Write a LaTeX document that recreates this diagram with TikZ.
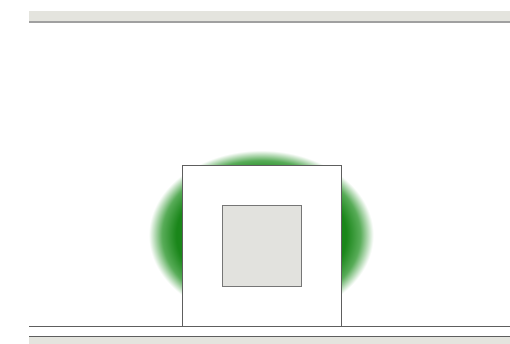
\documentclass[tikz,border=0pt]{standalone}
\usetikzlibrary{shadings}
\definecolor{band}{HTML}{E4E4DE}
\definecolor{bandline}{HTML}{A0A0A0}
\definecolor{edge}{HTML}{5E5E5E}
\definecolor{innerfill}{HTML}{E2E2DE}
\definecolor{gdark}{HTML}{1A861A}
\definecolor{gmid}{HTML}{58AC58}
\pgfdeclareradialshading{glow}{\pgfpoint{0bp}{0bp}}{color(0bp)=(gdark); color(18bp)=(gdark); color(21bp)=(gmid); color(23.8bp)=(white); color(50bp)=(white)}
\tikzset{
  edgeline/.style={draw=edge, line width=1pt},
  bandfill/.style={fill=band, draw=none}
}
\begin{document}
\begin{tikzpicture}[x=1pt,y=-1pt]
\useasboundingbox[fill=white] (0,0) rectangle (510,344);
% top band
\fill[band] (29,11) rectangle (510,21.5);
\draw[bandline, line width=1.6pt] (29,22.3) -- (510,22.3);
% glow
\shade[shading=glow] (261,235) ellipse [x radius=118, y radius=89];
% outer box
\draw[edgeline, fill=white] (182,166) rectangle (341,326.5);
% inner square
\draw[draw=edge!85, line width=1pt, fill=innerfill] (222.5,205.5) rectangle (301.5,286);
% bottom lines
\draw[edgeline] (29,326.5) -- (182,326.5);
\draw[edgeline] (341,326.5) -- (510,326.5);
\draw[edgeline] (29,336.5) -- (510,336.5);
\fill[band] (29,337.2) rectangle (510,344);
\end{tikzpicture}
\end{document}
